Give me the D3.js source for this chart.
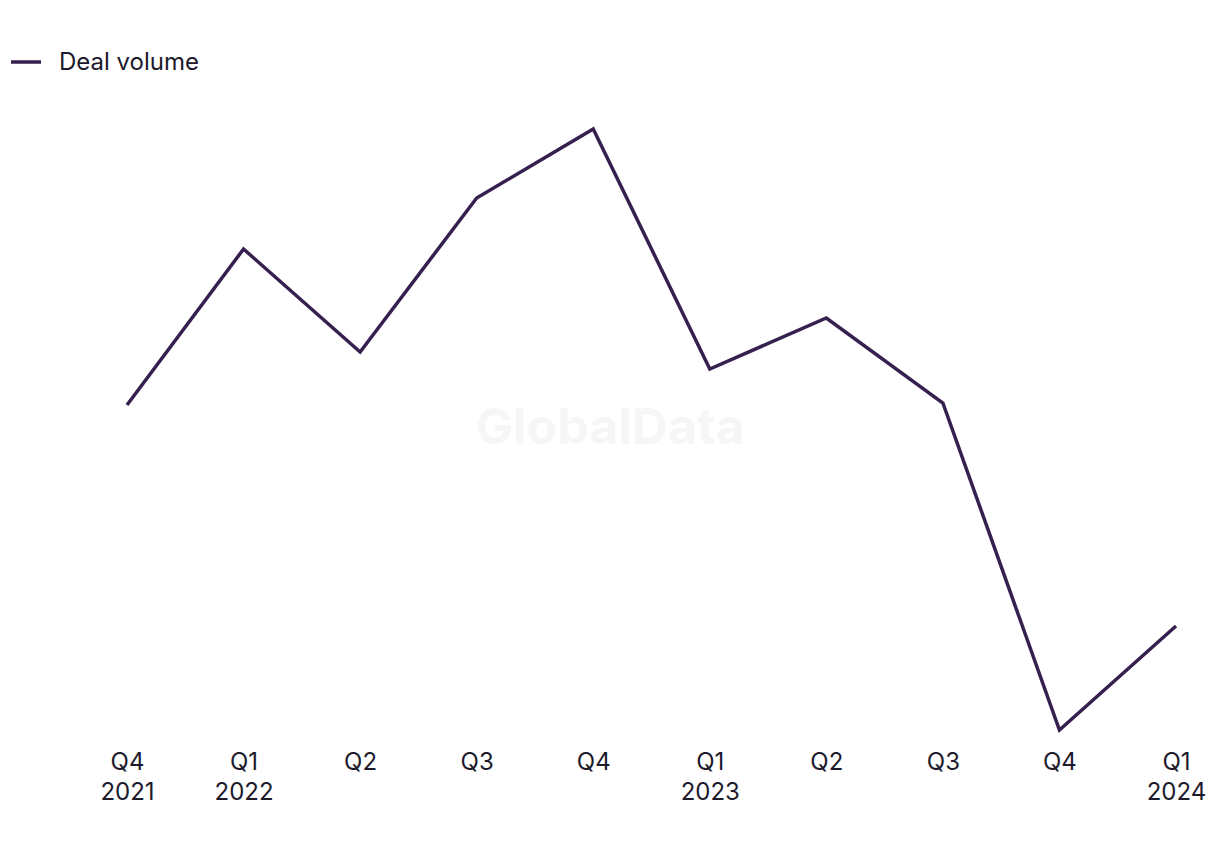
<!DOCTYPE html>
<html>
<head>
<meta charset="utf-8">
<script src="https://cdn.jsdelivr.net/npm/d3@7"></script>
<style>
  html, body { margin: 0; padding: 0; background: #ffffff; }
  svg { display: block; font-family: Inter, "Noto Sans", sans-serif; }
</style>
</head>
<body>
<svg id="chart" width="1220" height="850"></svg>
<script>
const quarters = ["Q4", "Q1", "Q2", "Q3", "Q4", "Q1", "Q2", "Q3", "Q4", "Q1"];
const years    = ["2021", "2022", "", "", "", "2023", "", "", "", "2024"];
const dealVolume = [42.5, 58.1, 47.8, 63.2, 70.1, 46.1, 51.2, 42.7, 10.0, 20.4];
const seriesName = "Deal volume";

const svg = d3.select("#chart");
const lineColor = "#35204f";
const textColor = "#1c1a2b";

const idx = d3.range(quarters.length);
const x = d3.scalePoint().domain(idx).range([127, 1176]);
const y = d3.scaleLinear().domain([10, 70.1]).range([730, 129]);

// watermark
svg.append("text")
  .attr("x", 610).attr("y", 444)
  .attr("text-anchor", "middle")
  .attr("font-size", 50).attr("font-weight", 700)
  .attr("fill", "#f6f6f6")
  .attr("font-family", "Inter, 'Liberation Sans', sans-serif")
  .text("GlobalData");

// legend
const lg = svg.append("g");
lg.append("line").attr("x1", 11).attr("x2", 41).attr("y1", 62).attr("y2", 62)
  .attr("stroke", lineColor).attr("stroke-width", 3.5);
lg.append("text").attr("x", 59).attr("y", 70).attr("font-size", 24)
  .attr("fill", textColor).text(seriesName);

// x axis labels
const xAxis = d3.axisBottom(x).tickSize(0).tickPadding(0).tickFormat(() => "");
const ax = svg.append("g").attr("transform", "translate(0,748)").call(xAxis);
ax.select(".domain").remove();
ax.selectAll(".tick text").remove();
ax.selectAll(".tick").each(function(d) {
  const t = d3.select(this).append("text")
    .attr("text-anchor", "middle").attr("font-size", 24).attr("fill", textColor)
    .attr("font-family", "Inter, 'Noto Sans', sans-serif");
  t.append("tspan").attr("x", 0).attr("y", 22).text(quarters[d]);
  if (years[d]) t.append("tspan").attr("x", 0).attr("y", 52).text(years[d]);
});

// line
const line = d3.line().x((d, i) => x(i)).y(d => y(d));
svg.append("path").datum(dealVolume)
  .attr("d", line)
  .attr("fill", "none")
  .attr("stroke", lineColor)
  .attr("stroke-width", 3.5)
  .attr("stroke-linejoin", "miter");
</script>
</body>
</html>
